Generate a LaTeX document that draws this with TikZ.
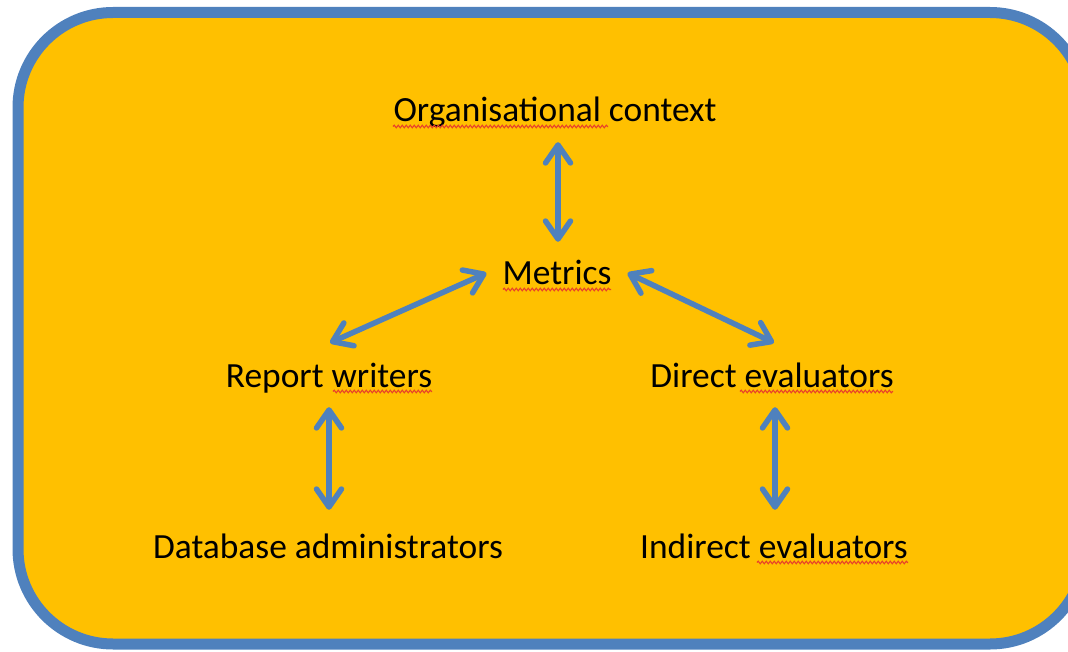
\documentclass[tikz,border=0pt]{standalone}
\usepackage{fontspec}
\setmainfont{Carlito}
\usetikzlibrary{arrows.meta,decorations.pathmorphing}
\definecolor{bgorange}{HTML}{FFC000}
\definecolor{ablue}{HTML}{4F81BD}
\definecolor{spell}{HTML}{E8402A}
\tikzset{
  lbl/.style={inner sep=0pt, text height=25pt, text depth=8pt, anchor=base,
    font=\fontsize{35.4}{42}\selectfont, text=black},
  arr/.style={draw=ablue, line width=5.5pt, line cap=round,
    {Straight Barb[length=18pt,width=25pt,round]}-{Straight Barb[length=18pt,width=25pt,round]}},
  squig/.style={draw=spell, line width=1.1pt,
    decorate, decoration={snake, amplitude=1.3pt, segment length=4pt}}
}
\begin{document}
\begin{tikzpicture}[x=1pt,y=-1pt]
\useasboundingbox (0,0) rectangle (1068,652);
\clip (0,0) rectangle (1068,652);
\draw[fill=bgorange, draw=ablue, line width=11pt, rounded corners=95pt]
  (18,12.5) rectangle (1085,644);

\node[lbl] (org) at (555,122) {Organisational context};
\node[lbl] (metrics) at (557,285) {Metrics};
\node[lbl] (report) at (329,387) {Report writers};
\node[lbl] (direct) at (772,387) {Direct evaluators};
\node[lbl] (dba) at (328,558) {Database administrators};
\node[lbl] (indirect) at (774,558) {Indirect evaluators};

% spell-check underlines
\draw[squig] (393,126.5) -- (608,126.5);
\draw[squig] (503,289.5) -- (611,289.5);
\draw[squig] (333,391.5) -- (432,391.5);
\draw[squig] (740,391.5) -- (893,391.5);
\draw[squig] (757,562.5) -- (908,562.5);

% connectors
\draw[arr] ([shift={(3,12)}]org.south) -- ([shift={(1,-18)}]metrics.north);
\draw[arr] ([shift={(-16,-3.5)}]metrics.west) -- ([shift={(1,-19)}]report.north);
\draw[arr] ([shift={(16,-3.5)}]metrics.east) -- ([shift={(2,-19)}]direct.north);
\draw[arr] ([shift={(0,12)}]report.south) -- ([shift={(1,-23)}]dba.north);
\draw[arr] ([shift={(3,12)}]direct.south) -- ([shift={(1,-23)}]indirect.north);
\end{tikzpicture}
\end{document}
